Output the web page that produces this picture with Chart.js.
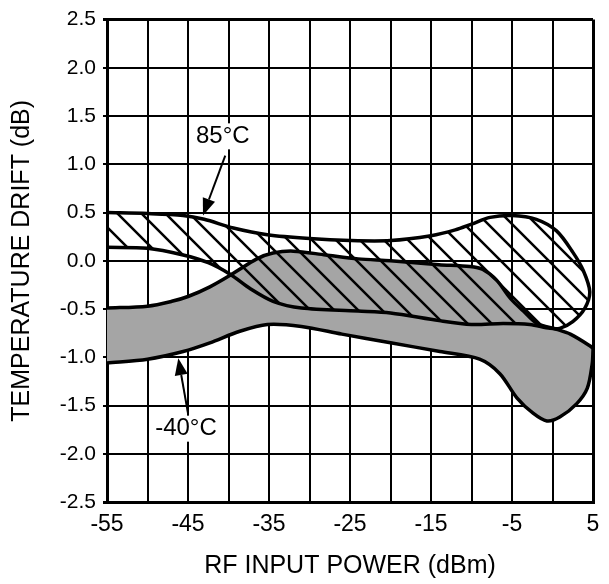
<!DOCTYPE html>
<html>
<head>
<meta charset="utf-8">
<script src="https://cdn.jsdelivr.net/npm/chart.js@4.4.0/dist/chart.umd.min.js"></script>
<style>
  body { margin: 0; background: #fff; }
  canvas { display: block; }
</style>
</head>
<body>
<canvas id="chart" width="609" height="584"></canvas>
<script>
// axis ranges (dBm / dB)
const xMin = -55, xMax = 5, xStep = 5;
const yMin = -2.5, yMax = 2.5, yStep = 0.5;
const xLabelEvery = 10;

// 85°C band: upper edge left->right (curls back at the right), then lower edge right->left
const hotUpper = [[-55, 0.50], [-50, 0.49], [-45.6, 0.47], [-43, 0.43], [-39.4, 0.34], [-35.2, 0.27],
  [-30, 0.23], [-25, 0.21], [-20, 0.21], [-15, 0.26], [-12, 0.32], [-10, 0.38], [-7.7, 0.45],
  [-5, 0.47], [-2, 0.43], [0.5, 0.31], [2.5, 0.09], [3.8, -0.10], [4.6, -0.32], [4.0, -0.49],
  [2.5, -0.63], [0.9, -0.70]];
const hotLower = [[-0.3, -0.70], [-2.8, -0.66], [-6.1, -0.65], [-10, -0.66], [-14, -0.62],
  [-20, -0.54], [-24, -0.52], [-31, -0.49], [-34.5, -0.42], [-37.3, -0.29], [-39.8, -0.14],
  [-42.5, -0.02], [-45.6, 0.06], [-50, 0.13], [-55, 0.14]];

// -40°C band: upper edge left->right, lower edge right->left
const coldUpper = [[-55, -0.49], [-50, -0.47], [-47, -0.42], [-45, -0.37], [-42.3, -0.27],
  [-39.4, -0.13], [-36.5, 0.02], [-34.5, 0.08], [-32, 0.10], [-28, 0.06], [-24, 0.02],
  [-20, 0.0], [-14, -0.04], [-10.2, -0.06], [-8.6, -0.09], [-6.9, -0.20], [-5.2, -0.39],
  [-3.6, -0.52], [-1.9, -0.65], [0.5, -0.71], [2.2, -0.76], [4.6, -0.88], [5, -0.91]];
const coldLower = [[5, -0.93], [4.9, -1.07], [4.3, -1.32], [3.0, -1.48], [0.9, -1.62],
  [-0.7, -1.66], [-2.4, -1.58], [-4.4, -1.42], [-6.5, -1.17], [-9, -1.02], [-13.9, -0.94],
  [-20, -0.85], [-26, -0.76], [-31, -0.68], [-35.2, -0.66], [-38.6, -0.73], [-42.3, -0.85],
  [-45.6, -0.94], [-50, -1.02], [-55, -1.06]];

// callouts: label position, arrow start, arrow tip (data units)
const callouts = [
  { text: '85°C', at: [-40.7, 1.29], from: [-40.4, 1.09], to: [-43.15, 0.47] },
  { text: '-40°C', at: [-45.25, -1.74], from: [-45.0, -1.58], to: [-46.2, -1.01] }
];

const toPoints = (a) => a.map(p => ({ x: p[0], y: p[1] }));

// diagonal hatch for the 85°C band
function makeHatch() {
  const s = 24;
  const c = document.createElement('canvas');
  c.width = s; c.height = s;
  const g = c.getContext('2d');
  g.strokeStyle = '#000';
  g.lineWidth = 2.5;
  g.beginPath();
  g.moveTo(-4, -4); g.lineTo(s + 4, s + 4);
  g.moveTo(-4, s - 4); g.lineTo(4, s + 4);
  g.moveTo(s - 4, -4); g.lineTo(s + 4, 4);
  g.stroke();
  return g.createPattern(c, 'repeat');
}

const calloutPlugin = {
  id: 'callouts',
  afterDraw(chart) {
    const { ctx, scales: { x, y } } = chart;
    ctx.save();
    ctx.font = '24px "Liberation Sans", Arial, sans-serif';
    ctx.textAlign = 'center';
    ctx.textBaseline = 'middle';
    callouts.forEach(c => {
      const tx = x.getPixelForValue(c.at[0]), ty = y.getPixelForValue(c.at[1]);
      const w = ctx.measureText(c.text).width;
      ctx.fillStyle = '#fff';
      ctx.fillRect(tx - w / 2 - 3, ty - 13, w + 6, 26);
      ctx.fillStyle = '#000';
      ctx.fillText(c.text, tx, ty);

      const x0 = x.getPixelForValue(c.from[0]), y0 = y.getPixelForValue(c.from[1]);
      const x1 = x.getPixelForValue(c.to[0]), y1 = y.getPixelForValue(c.to[1]);
      const ang = Math.atan2(y1 - y0, x1 - x0);
      const len = 17, half = 6.5;
      const bx = x1 - len * Math.cos(ang), by = y1 - len * Math.sin(ang);
      ctx.strokeStyle = '#000';
      ctx.lineWidth = 2;
      ctx.beginPath();
      ctx.moveTo(x0, y0);
      ctx.lineTo(bx, by);
      ctx.stroke();
      ctx.beginPath();
      ctx.moveTo(x1, y1);
      ctx.lineTo(bx + half * Math.sin(ang), by - half * Math.cos(ang));
      ctx.lineTo(bx - half * Math.sin(ang), by + half * Math.cos(ang));
      ctx.closePath();
      ctx.fill();
    });
    ctx.restore();
  }
};

const ctx = document.getElementById('chart').getContext('2d');
new Chart(ctx, {
  type: 'scatter',
  data: {
    datasets: [
      {
        label: '85°C',
        data: toPoints(hotUpper.concat(hotLower)),
        showLine: true,
        fill: 'shape',
        backgroundColor: makeHatch(),
        borderColor: '#000',
        borderWidth: 3.5,
        pointRadius: 0,
        tension: 0.3
      },
      {
        label: '-40°C',
        data: toPoints(coldUpper.concat(coldLower)),
        showLine: true,
        fill: 'shape',
        backgroundColor: '#a5a5a5',
        borderColor: '#000',
        borderWidth: 3.5,
        pointRadius: 0,
        tension: 0.3
      }
    ]
  },
  options: {
    responsive: false,
    animation: false,
    layout: { padding: { top: 16, right: 16, left: 0, bottom: 0 } },
    plugins: {
      legend: { display: false },
      tooltip: { enabled: false }
    },
    scales: {
      x: {
        type: 'linear',
        min: xMin, max: xMax,
        z: 1,
        afterFit: (s) => { s.height = 82; },
        grid: {
          color: '#000',
          lineWidth: (c) => (c.index === 0 || c.tick.value === xMax) ? 3 : 2,
          drawTicks: false
        },
        border: { color: '#000', width: 3 },
        ticks: {
          stepSize: xStep,
          color: '#000',
          padding: 9,
          maxRotation: 0,
          autoSkip: false,
          font: { family: '"Liberation Sans", Arial, sans-serif', size: 23 },
          callback: (v) => ((v - xMin) % xLabelEvery === 0 ? String(v) : '')
        },
        title: {
          display: true,
          text: 'RF INPUT POWER (dBm)',
          color: '#000',
          font: { family: '"Liberation Sans", Arial, sans-serif', size: 25 },
          padding: { top: 0, bottom: 3 }
        }
      },
      y: {
        type: 'linear',
        min: yMin, max: yMax,
        z: 1,
        afterFit: (s) => { s.width = 107; },
        grid: {
          color: '#000',
          lineWidth: (c) => (c.tick.value === yMax || c.tick.value === yMin) ? 3 : 2,
          tickLength: 4
        },
        border: { color: '#000', width: 3 },
        ticks: {
          stepSize: yStep,
          color: '#000',
          padding: 7,
          font: { family: '"Liberation Sans", Arial, sans-serif', size: 21 },
          callback: (v) => v.toFixed(1)
        },
        title: {
          display: true,
          text: 'TEMPERATURE DRIFT (dB)',
          color: '#000',
          font: { family: '"Liberation Sans", Arial, sans-serif', size: 25 },
          padding: { top: 7, bottom: 0 }
        }
      }
    }
  },
  plugins: [calloutPlugin]
});
</script>
</body>
</html>
